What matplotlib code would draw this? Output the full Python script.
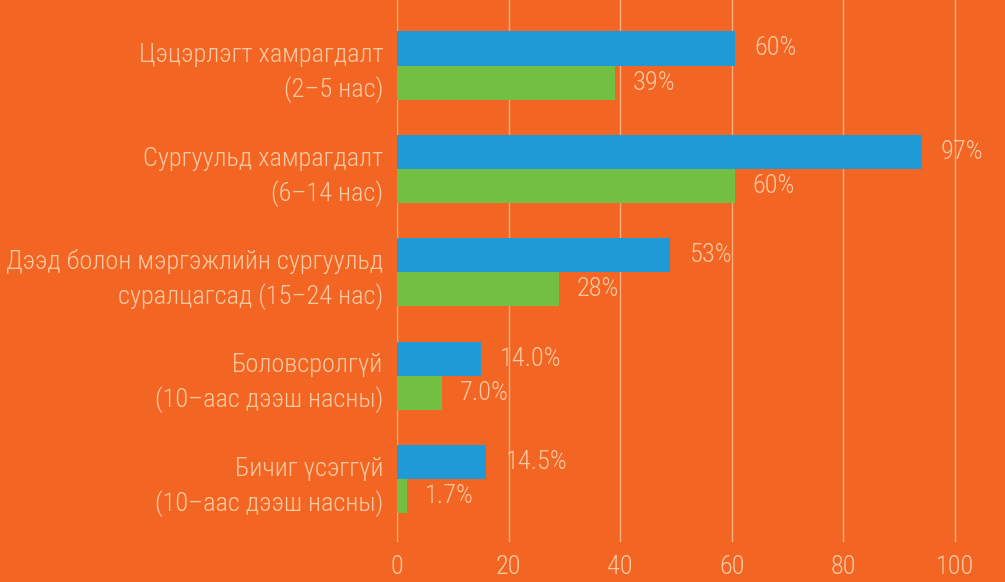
import matplotlib.pyplot as plt
import numpy as np

# data
categories = [
    "Цэцэрлэгт хамрагдалт\n(2–5 нас)",
    "Сургуульд хамрагдалт\n(6–14 нас)",
    "Дээд болон мэргэжлийн сургуульд\nсуралцагсад (15–24 нас)",
    "Боловсролгүй\n(10–аас дээш насны)",
    "Бичиг үсэггүй\n(10–аас дээш насны)",
]
blue_vals = [60.5, 94, 49, 15, 16]
green_vals = [39, 60.5, 29, 8, 1.8]
blue_labels = ["60%", "97%", "53%", "14.0%", "14.5%"]
green_labels = ["39%", "60%", "28%", "7.0%", "1.7%"]
xticks = [0, 20, 40, 60, 80, 100]

BG = "#F26522"
BLUE = "#1F9AD6"
GREEN = "#72BF44"
TXT = "#FBCBA5"
GRID = "#F9B083"

plt.rcParams['font.family'] = ['Roboto Condensed', 'DejaVu Sans']
plt.rcParams['font.weight'] = 300

fig = plt.figure(figsize=(10.05, 5.82), dpi=100, facecolor=BG)
ax = fig.add_axes([397 / 1005, 40 / 582, 608 / 1005, 542 / 582])
ax.set_facecolor(BG)

y = np.arange(len(categories))
h = 0.33
ax.barh(y - h / 2, blue_vals, height=h, color=BLUE, zorder=3)
ax.barh(y + h / 2, green_vals, height=h, color=GREEN, zorder=3)

fs = 19
for i in range(len(categories)):
    ax.annotate(blue_labels[i], (blue_vals[i], y[i] - h / 2), xytext=(14, 0),
                textcoords="offset points", va="center", ha="left",
                color=TXT, fontsize=fs)
    ax.annotate(green_labels[i], (green_vals[i], y[i] + h / 2), xytext=(13, 0),
                textcoords="offset points", va="center", ha="left",
                color=TXT, fontsize=fs)

ax.set_xlim(0, 608 / 5.58)
ax.set_ylim(4 + 63 / 103.3, -65.5 / 103.3)
ax.set_xticks(xticks)
ax.set_yticks(y)
ax.set_yticklabels(categories, fontsize=fs, color=TXT, ha="right",
                   linespacing=1.45)
ax.tick_params(axis="y", length=0, pad=10)
ax.tick_params(axis="x", length=0, pad=9, labelsize=fs, labelcolor=TXT)
ax.grid(axis="x", color=GRID, linewidth=1, zorder=0)
for s in ax.spines.values():
    s.set_visible(False)

fig.savefig("out.png", dpi=100, facecolor=BG)
